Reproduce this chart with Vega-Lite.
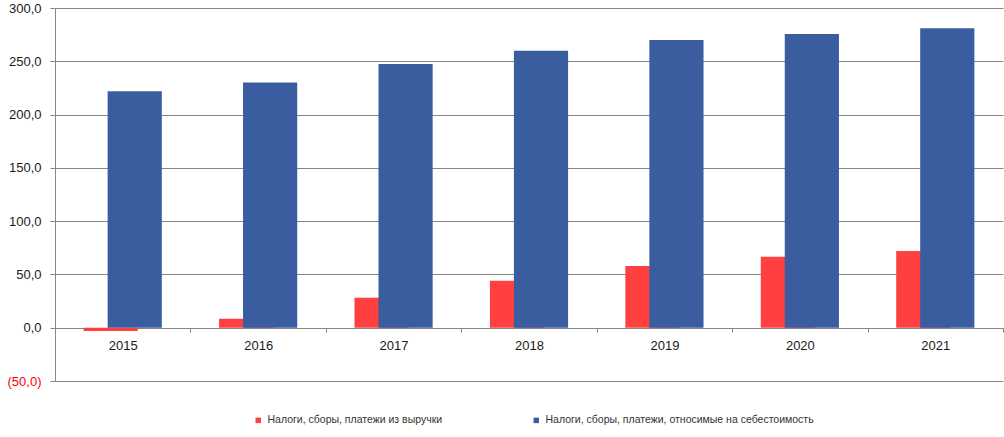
{
  "$schema": "https://vega.github.io/schema/vega-lite/v6.json",
  "autosize": "none",
  "width": 948,
  "height": 373,
  "padding": {"left": 55, "top": 8, "right": 1, "bottom": 56},
  "background": "white",
  "config": {
    "view": {"stroke": null},
    "font": "Liberation Sans"
  },
  "data": {
    "values": [
      {"year": "2015", "series": "Налоги, сборы, платежи из выручки", "value": -3},
      {"year": "2016", "series": "Налоги, сборы, платежи из выручки", "value": 8.5},
      {"year": "2017", "series": "Налоги, сборы, платежи из выручки", "value": 28},
      {"year": "2018", "series": "Налоги, сборы, платежи из выручки", "value": 44},
      {"year": "2019", "series": "Налоги, сборы, платежи из выручки", "value": 58},
      {"year": "2020", "series": "Налоги, сборы, платежи из выручки", "value": 66.5},
      {"year": "2021", "series": "Налоги, сборы, платежи из выручки", "value": 72},
      {"year": "2015", "series": "Налоги, сборы, платежи, относимые на себестоимость", "value": 222},
      {"year": "2016", "series": "Налоги, сборы, платежи, относимые на себестоимость", "value": 230},
      {"year": "2017", "series": "Налоги, сборы, платежи, относимые на себестоимость", "value": 247.5},
      {"year": "2018", "series": "Налоги, сборы, платежи, относимые на себестоимость", "value": 260},
      {"year": "2019", "series": "Налоги, сборы, платежи, относимые на себестоимость", "value": 270},
      {"year": "2020", "series": "Налоги, сборы, платежи, относимые на себестоимость", "value": 275.5},
      {"year": "2021", "series": "Налоги, сборы, платежи, относимые на себестоимость", "value": 281}
    ]
  },
  "encoding": {
    "x": {
      "field": "year",
      "type": "nominal",
      "scale": {"paddingInner": 0, "paddingOuter": 0},
      "axis": {
        "title": null,
        "offset": -53,
        "labelAngle": 0,
        "labelFontSize": 13,
        "labelColor": "#1a1a1a",
        "labelPadding": 7,
        "tickBand": "extent",
        "tickSize": 4,
        "tickColor": "#868686",
        "domainColor": "#868686",
        "grid": false
      }
    },
    "y": {
      "field": "value",
      "type": "quantitative",
      "scale": {"domain": [-50, 300], "nice": false, "zero": false},
      "axis": {
        "title": null,
        "values": [-50, 0, 50, 100, 150, 200, 250, 300],
        "labelExpr": "datum.value < 0 ? '(' + replace(format(-datum.value, '.1f'), '.', ',') + ')' : replace(format(datum.value, '.1f'), '.', ',')",
        "labelColor": {"condition": {"test": "datum.value < 0", "value": "#FF0000"}, "value": "#1a1a1a"},
        "labelFontSize": 13,
        "labelPadding": 9,
        "tickSize": 5,
        "tickColor": "#868686",
        "domainColor": "#868686",
        "gridColor": "#868686",
        "grid": true
      }
    },
    "color": {
      "field": "series",
      "type": "nominal",
      "scale": {
        "domain": ["Налоги, сборы, платежи из выручки", "Налоги, сборы, платежи, относимые на себестоимость"],
        "range": ["#FF4040", "#3A5DA0"]
      },
      "legend": {
        "title": null,
        "orient": "none",
        "direction": "horizontal",
        "legendX": 198,
        "legendY": 407,
        "symbolType": "square",
        "symbolSize": 30,
        "labelFontSize": 10.5,
        "labelLimit": 0,
        "labelColor": "#333333",
        "columnPadding": 88,
        "labelOffset": 4
      }
    }
  },
  "layer": [
    {
      "transform": [{"filter": "datum.series === 'Налоги, сборы, платежи из выручки'"}],
      "mark": {"type": "bar", "width": {"band": 0.4}, "xOffset": -12}
    },
    {
      "transform": [{"filter": "datum.series === 'Налоги, сборы, платежи, относимые на себестоимость'"}],
      "mark": {"type": "bar", "width": {"band": 0.4}, "xOffset": 12}
    }
  ]
}
